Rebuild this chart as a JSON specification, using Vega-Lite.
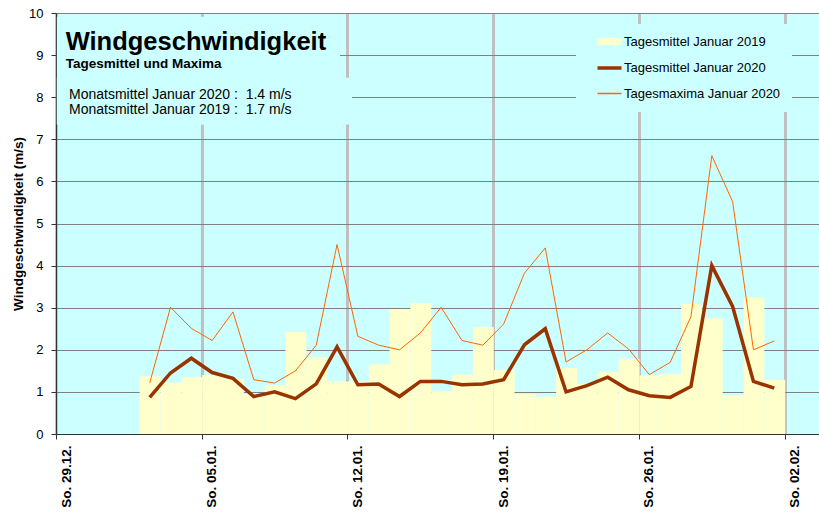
{
  "$schema": "https://vega.github.io/schema/vega-lite/v6.json",
  "width": 763,
  "height": 421,
  "autosize": {"type": "none"},
  "padding": {"left": 56, "top": 13, "right": 0, "bottom": 80},
  "background": "white",
  "config": {
    "font": "Liberation Sans",
    "view": {"fill": "#ccffff", "stroke": null},
    "axis": {"labelColor": "#000000", "titleColor": "#000000"}
  },
  "data": {
    "values": [
      {"tag": "2020-01-02", "mittel2019": 1.37, "mittel2020": 0.87, "max2020": 1.21},
      {"tag": "2020-01-03", "mittel2019": 1.22, "mittel2020": 1.45, "max2020": 3.01},
      {"tag": "2020-01-04", "mittel2019": 1.35, "mittel2020": 1.80, "max2020": 2.51},
      {"tag": "2020-01-05", "mittel2019": 1.40, "mittel2020": 1.46, "max2020": 2.22},
      {"tag": "2020-01-06", "mittel2019": 1.31, "mittel2020": 1.32, "max2020": 2.90},
      {"tag": "2020-01-07", "mittel2019": 0.95, "mittel2020": 0.89, "max2020": 1.29},
      {"tag": "2020-01-08", "mittel2019": 1.16, "mittel2020": 1.00, "max2020": 1.21},
      {"tag": "2020-01-09", "mittel2019": 2.43, "mittel2020": 0.84, "max2020": 1.50},
      {"tag": "2020-01-10", "mittel2019": 1.82, "mittel2020": 1.19, "max2020": 2.11},
      {"tag": "2020-01-11", "mittel2019": 1.25, "mittel2020": 2.07, "max2020": 4.50},
      {"tag": "2020-01-12", "mittel2019": 1.25, "mittel2020": 1.17, "max2020": 2.32},
      {"tag": "2020-01-13", "mittel2019": 1.65, "mittel2020": 1.19, "max2020": 2.11},
      {"tag": "2020-01-14", "mittel2019": 2.97, "mittel2020": 0.89, "max2020": 2.00},
      {"tag": "2020-01-15", "mittel2019": 3.11, "mittel2020": 1.25, "max2020": 2.40},
      {"tag": "2020-01-16", "mittel2019": 1.01, "mittel2020": 1.25, "max2020": 3.01},
      {"tag": "2020-01-17", "mittel2019": 1.41, "mittel2020": 1.17, "max2020": 2.22},
      {"tag": "2020-01-18", "mittel2019": 2.54, "mittel2020": 1.19, "max2020": 2.11},
      {"tag": "2020-01-19", "mittel2019": 1.52, "mittel2020": 1.29, "max2020": 2.61},
      {"tag": "2020-01-20", "mittel2019": 0.95, "mittel2020": 2.12, "max2020": 3.82},
      {"tag": "2020-01-21", "mittel2019": 0.89, "mittel2020": 2.50, "max2020": 4.42},
      {"tag": "2020-01-22", "mittel2019": 1.57, "mittel2020": 1.00, "max2020": 1.71},
      {"tag": "2020-01-23", "mittel2019": 1.19, "mittel2020": 1.15, "max2020": 2.00},
      {"tag": "2020-01-24", "mittel2019": 1.47, "mittel2020": 1.35, "max2020": 2.40},
      {"tag": "2020-01-25", "mittel2019": 1.79, "mittel2020": 1.05, "max2020": 2.02},
      {"tag": "2020-01-26", "mittel2019": 1.39, "mittel2020": 0.91, "max2020": 1.41},
      {"tag": "2020-01-27", "mittel2019": 1.43, "mittel2020": 0.87, "max2020": 1.70},
      {"tag": "2020-01-28", "mittel2019": 3.09, "mittel2020": 1.13, "max2020": 2.79},
      {"tag": "2020-01-29", "mittel2019": 2.75, "mittel2020": 4.00, "max2020": 6.61},
      {"tag": "2020-01-30", "mittel2019": 0.91, "mittel2020": 3.03, "max2020": 5.52},
      {"tag": "2020-01-31", "mittel2019": 3.24, "mittel2020": 1.25, "max2020": 2.00},
      {"tag": "2020-02-01", "mittel2019": 1.29, "mittel2020": 1.09, "max2020": 2.21}
    ]
  },
  "layer": [
    {
      "data": {"values": [{}]},
      "mark": {"type": "rect", "fill": "#ccffff"},
      "encoding": {
        "x": {"datum": {"year": 2019, "month": 12, "date": 29, "hours": 1, "utc": true}, "type": "temporal"},
        "x2": {"datum": {"year": 2020, "month": 1, "date": 11, "hours": 15, "minutes": 20, "utc": true}},
        "y": {"datum": 9.91, "type": "quantitative"},
        "y2": {"datum": 7.35}
      }
    },
    {
      "data": {"values": [{}]},
      "mark": {"type": "rect", "fill": "#ccffff"},
      "encoding": {
        "x": {"datum": {"year": 2019, "month": 12, "date": 29, "hours": 1, "utc": true}, "type": "temporal"},
        "x2": {"datum": {"year": 2020, "month": 1, "date": 12, "hours": 5, "minutes": 15, "utc": true}},
        "y": {"datum": 8.46, "type": "quantitative"},
        "y2": {"datum": 7.35}
      }
    },
    {
      "mark": {"type": "bar", "binSpacing": 0},
      "encoding": {
        "x": {
          "field": "tag",
          "type": "temporal",
          "timeUnit": "utcyearmonthdate",
          "scale": {
            "type": "utc",
            "domain": [
              {"year": 2019, "month": 12, "date": 29, "utc": true},
              {"year": 2020, "month": 2, "date": 3, "hours": 15, "minutes": 35, "utc": true}
            ]
          },
          "axis": {
            "title": null,
            "values": [
              {"year": 2019, "month": 12, "date": 29, "utc": true},
              {"year": 2020, "month": 1, "date": 5, "utc": true},
              {"year": 2020, "month": 1, "date": 12, "utc": true},
              {"year": 2020, "month": 1, "date": 19, "utc": true},
              {"year": 2020, "month": 1, "date": 26, "utc": true},
              {"year": 2020, "month": 2, "date": 2, "utc": true}
            ],
            "labelExpr": "'So. ' + utcFormat(datum.value, '%d.%m.')",
            "labelAngle": 270,
            "labelFontSize": 13.5,
            "labelFontWeight": "bold",
            "labelOffset": 10,
            "labelPadding": 6,
            "labelFlush": false,
            "labelOverlap": false,
            "labelBound": false,
            "tickSize": 5,
            "tickColor": "#333333",
            "domainColor": "#333333",
            "grid": true,
            "gridColor": "#c0c0c0",
            "gridWidth": 3
          }
        },
        "y": {
          "field": "mittel2019",
          "type": "quantitative",
          "scale": {"domain": [0, 10], "nice": false},
          "axis": {
            "title": "Windgeschwindigkeit (m/s)",
            "titleFontSize": 13.5,
            "titleFontWeight": "bold",
            "titlePadding": 3,
            "values": [0, 1, 2, 3, 4, 5, 6, 7, 8, 9, 10],
            "labelFontSize": 13,
            "labelPadding": 8,
            "tickSize": 5,
            "tickColor": "#333333",
            "domainColor": "#333333",
            "grid": true,
            "gridColor": "#808080",
            "gridWidth": 1
          }
        },
        "color": {
          "datum": "Tagesmittel Januar 2019",
          "type": "nominal",
          "scale": {
            "domain": ["Tagesmittel Januar 2019", "Tagesmittel Januar 2020", "Tagesmaxima Januar 2020"],
            "range": ["#ffffcc", "#993300", "#ff6600"]
          },
          "legend": {
            "title": null,
            "orient": "none",
            "legendX": 520,
            "legendY": 11,
            "fillColor": "#ccffff",
            "padding": 11,
            "symbolOffset": 16,
            "symbolSize": 576,
            "labelFontSize": 13,
            "labelColor": "#000000",
            "labelOffset": 8,
            "rowPadding": 11.5,
            "labelLimit": 300,
            "encode": {
              "symbols": {
                "update": {
                  "shape": {"signal": "datum.value === 'Tagesmittel Januar 2019' ? 'M-1,-0.3H1V0.3H-1Z' : 'M-1,0H1'"},
                  "fill": {"signal": "datum.value === 'Tagesmittel Januar 2019' ? '#ffffcc' : 'transparent'"},
                  "stroke": {"signal": "datum.value === 'Tagesmittel Januar 2019' ? 'transparent' : (datum.value === 'Tagesmittel Januar 2020' ? '#993300' : '#f09050')"},
                  "strokeWidth": {"signal": "datum.value === 'Tagesmittel Januar 2019' ? 0 : (datum.value === 'Tagesmittel Januar 2020' ? 3.5 : 1.5)"},
                  "opacity": {"value": 1}
                }
              }
            }
          }
        }
      }
    },
    {
      "mark": {"type": "line", "strokeWidth": 1},
      "encoding": {
        "x": {"field": "tag", "type": "temporal", "timeUnit": "utcyearmonthdate", "bandPosition": 0.5},
        "y": {"field": "max2020", "type": "quantitative"},
        "color": {"datum": "Tagesmaxima Januar 2020", "type": "nominal"}
      }
    },
    {
      "mark": {"type": "line", "strokeWidth": 3.5, "strokeJoin": "miter"},
      "encoding": {
        "x": {"field": "tag", "type": "temporal", "timeUnit": "utcyearmonthdate", "bandPosition": 0.5},
        "y": {"field": "mittel2020", "type": "quantitative"},
        "color": {"datum": "Tagesmittel Januar 2020", "type": "nominal"}
      }
    },
    {
      "data": {"values": [{}]},
      "mark": {"type": "text", "text": "Windgeschwindigkeit", "fontSize": 25.5, "fontWeight": "bold", "align": "left", "baseline": "alphabetic", "color": "#000000"},
      "encoding": {
        "x": {"datum": {"year": 2019, "month": 12, "date": 29, "hours": 11, "minutes": 10, "utc": true}, "type": "temporal"},
        "y": {"datum": 9.13, "type": "quantitative"}
      }
    },
    {
      "data": {"values": [{}]},
      "mark": {"type": "text", "text": "Tagesmittel und Maxima", "fontSize": 13.5, "fontWeight": "bold", "align": "left", "baseline": "alphabetic", "color": "#000000"},
      "encoding": {
        "x": {"datum": {"year": 2019, "month": 12, "date": 29, "hours": 11, "minutes": 10, "utc": true}, "type": "temporal"},
        "y": {"datum": 8.69, "type": "quantitative"}
      }
    },
    {
      "data": {"values": [{}]},
      "mark": {"type": "text", "text": "Monatsmittel Januar 2020 :\u00a0 1.4 m/s", "fontSize": 14, "align": "left", "baseline": "alphabetic", "color": "#000000"},
      "encoding": {
        "x": {"datum": {"year": 2019, "month": 12, "date": 29, "hours": 15, "utc": true}, "type": "temporal"},
        "y": {"datum": 7.96, "type": "quantitative"}
      }
    },
    {
      "data": {"values": [{}]},
      "mark": {"type": "text", "text": "Monatsmittel Januar 2019 :\u00a0 1.7 m/s", "fontSize": 14, "align": "left", "baseline": "alphabetic", "color": "#000000"},
      "encoding": {
        "x": {"datum": {"year": 2019, "month": 12, "date": 29, "hours": 15, "utc": true}, "type": "temporal"},
        "y": {"datum": 7.60, "type": "quantitative"}
      }
    }
  ]
}
